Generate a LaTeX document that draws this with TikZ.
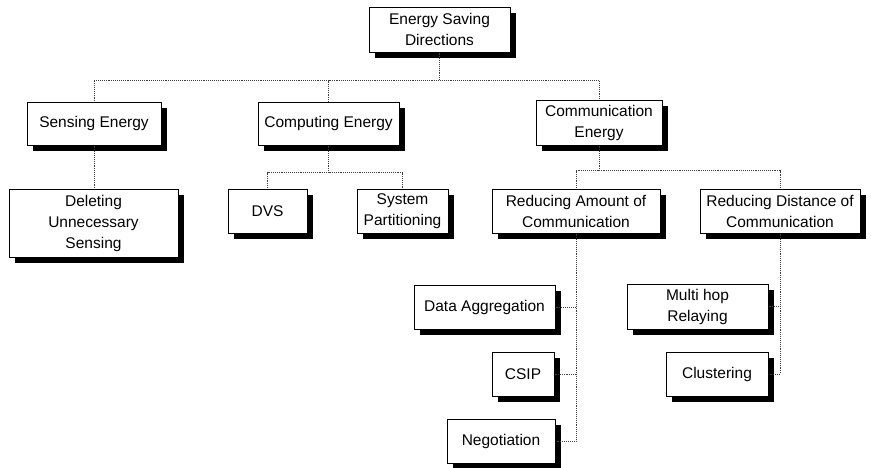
\documentclass[tikz,border=0pt]{standalone}
\usepackage{fontspec}
\setmainfont{Liberation Sans}
\usetikzlibrary{shadows}

\begin{document}
\begin{tikzpicture}[x=1pt, y=-1pt,
blk/.style = {draw, line width=1pt, fill=white, inner sep=0pt, align=center,
  font=\fontsize{15.5}{21}\selectfont,
  drop shadow={shadow xshift=6pt, shadow yshift=-6pt, fill=black, opacity=1}},
lnk/.style = {line width=0.9pt, black!75, densely dotted}
]
\useasboundingbox (0,0) rectangle (871,467);
\node[blk, minimum width=141, minimum height=45] (root) at (439.5,29.5) {Energy Saving\\Directions};
\node[blk, minimum width=134, minimum height=43] (sens) at (94,123.5) {Sensing Energy};
\node[blk, minimum width=141, minimum height=43] (comp) at (328.5,123.5) {Computing Energy};
\node[blk, minimum width=126, minimum height=45] (comm) at (599,122.5) {Communication\\Energy};
\node[blk, minimum width=169, minimum height=68] (del) at (93.5,223) {Deleting\\Unnecessary\\Sensing};
\node[blk, minimum width=79, minimum height=44] (dvs) at (267.5,211) {DVS};
\node[blk, minimum width=91, minimum height=44] (sysp) at (402.5,211) {System\\Partitioning};
\node[blk, minimum width=168, minimum height=44] (ramt) at (576,211) {Reducing Amount of\\Communication};
\node[blk, minimum width=160, minimum height=44] (rdist) at (780,211) {Reducing Distance of\\Communication};
\node[blk, minimum width=141, minimum height=44] (dagg) at (484.5,307) {Data Aggregation};
\node[blk, minimum width=62, minimum height=44] (csip) at (523,374) {CSIP};
\node[blk, minimum width=108, minimum height=44] (nego) at (501,441) {Negotiation};
\node[blk, minimum width=141, minimum height=45] (mhop) at (697.5,306.5) {Multi hop\\Relaying};
\node[blk, minimum width=102, minimum height=44] (clus) at (717,374) {Clustering};
% tree links
\foreach \c in {sens,comp,comm}{\draw[lnk] (root.south) -- ++(0,28) -| (\c.north);}
\draw[lnk] (sens.south) -- (sens.south |- del.north);
\foreach \c in {dvs,sysp}{\draw[lnk] (comp.south) -- ++(0,27) -| (\c.north);}
\foreach \c in {ramt,rdist}{\draw[lnk] (comm.south) -- ++(0,25) -| (\c.north);}
\foreach \c in {dagg,csip,nego}{\draw[lnk] (ramt.south) |- (\c.east);}
\foreach \c in {mhop,clus}{\draw[lnk] (rdist.south) |- (\c.east);}
\end{tikzpicture}
\end{document}
